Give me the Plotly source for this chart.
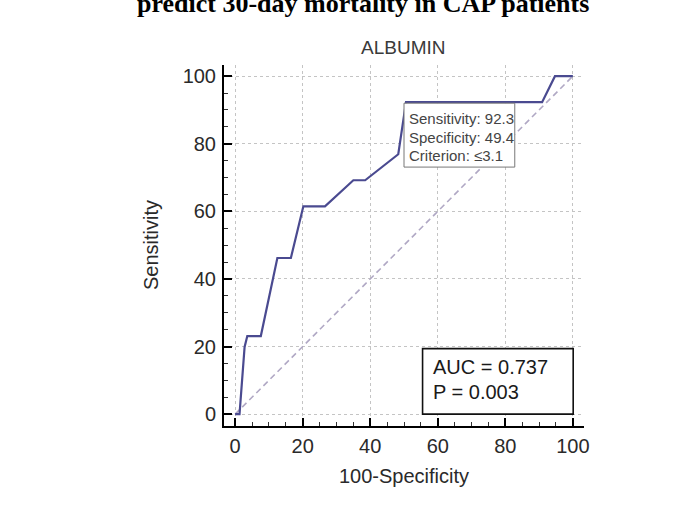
import plotly.graph_objects as go

# ROC curve points (100-Specificity, Sensitivity)
fpr = [0, 1.3, 2.8, 3.6, 7.6, 12.5, 16.5, 20.2, 26.6, 35.0, 38.5, 48.3, 50.6, 90.9, 94.7, 100]
tpr = [0, 0, 19.9, 23.1, 23.1, 46.2, 46.2, 61.5, 61.5, 69.2, 69.2, 76.9, 92.3, 92.3, 100, 100]
diag = [0, 100]
tick_vals = [0, 20, 40, 60, 80, 100]
tick_text = ["0", "20", "40", "60", "80", "100"]

sens_txt = "Sensitivity: 92.3"
spec_txt = "Specificity: 49.4"
crit_txt = "Criterion: \u22643.1"
auc_txt = "AUC = 0.737"
p_txt = "P = 0.003"

FONT = "Liberation Sans, Arial, sans-serif"
W, H = 693, 507
ml, mr, mt, mb = 224, 109, 65, 81
xr = [-3.3, 103.3]
yr = [-3.5, 103.3]

fig = go.Figure()
fig.add_trace(go.Scatter(x=diag, y=diag, mode="lines",
                         line=dict(color="#b0a8c4", width=1.6, dash="6px,4px"),
                         hoverinfo="skip", showlegend=False))
fig.add_trace(go.Scatter(x=fpr, y=tpr, mode="lines",
                         line=dict(color="#4a4a90", width=2.2),
                         showlegend=False))

# criterion box
fig.add_shape(type="rect", x0=50.0, x1=82.8, y0=73.1, y1=92.0, xref="x", yref="y",
              line=dict(color="#777777", width=1), fillcolor="white", layer="above")
for txt, yy in [(sens_txt, 87.4), (spec_txt, 82.0), (crit_txt, 76.6)]:
    fig.add_annotation(x=51.0, y=yy, xref="x", yref="y", text=txt, showarrow=False,
                       xanchor="left", yanchor="middle",
                       font=dict(family=FONT, size=15, color="#444444"))

# AUC box
fig.add_shape(type="rect", x0=55.5, x1=100.1, y0=0, y1=19.4, xref="x", yref="y",
              line=dict(color="#111111", width=1.6), fillcolor="white", layer="above")
fig.add_annotation(x=58.0, y=14.0, xref="x", yref="y", text=auc_txt, showarrow=False,
                   xanchor="left", yanchor="middle", font=dict(family=FONT, size=20, color="#1a1a1a"))
fig.add_annotation(x=58.0, y=6.6, xref="x", yref="y", text=p_txt, showarrow=False,
                   xanchor="left", yanchor="middle", font=dict(family=FONT, size=20, color="#1a1a1a"))

pw = W - ml - mr
ph = H - mt - mb
def px_x(p):
    return (p - ml) / pw
def px_y(p):
    return (H - mb - p) / ph

# chart title
fig.add_annotation(x=px_x(403), y=px_y(47), xref="paper", yref="paper", text="ALBUMIN",
                   showarrow=False, xanchor="center", yanchor="middle",
                   font=dict(family=FONT, size=19, color="#3a3a3a"))
# cut-off caption at top
fig.add_annotation(x=px_x(363), y=px_y(3.5), xref="paper", yref="paper",
                   text="<b>predict 30-day mortality in CAP patients</b>",
                   showarrow=False, xanchor="center", yanchor="middle",
                   font=dict(family="Liberation Serif, Times New Roman, serif", size=26, color="black"))
# axis titles
fig.add_annotation(x=px_x(151), y=px_y(245), xref="paper", yref="paper", text="Sensitivity",
                   showarrow=False, textangle=-90, xanchor="center", yanchor="middle",
                   font=dict(family=FONT, size=20, color="#2a2a2a"))
fig.add_annotation(x=px_x(404), y=px_y(476), xref="paper", yref="paper", text="100-Specificity",
                   showarrow=False, xanchor="center", yanchor="middle",
                   font=dict(family=FONT, size=20, color="#2a2a2a"))

axis_common = dict(
    tickvals=tick_vals, ticktext=tick_text,
    showline=True, linecolor="black", linewidth=2,
    ticks="inside", ticklen=8, tickwidth=2, tickcolor="black",
    showgrid=True, gridcolor="#c4c4c4", gridwidth=1, griddash="dot",
    zeroline=False,
    tickfont=dict(family=FONT, size=20, color="#2a2a2a"),
    minor=dict(dtick=5, ticks="inside", ticklen=4, tickwidth=1, tickcolor="#333333", showgrid=False),
)
fig.update_xaxes(range=xr, ticklabelstandoff=1, **axis_common)
fig.update_yaxes(range=yr, ticklabelstandoff=2, **axis_common)

fig.update_layout(width=W, height=H, margin=dict(l=ml, r=mr, t=mt, b=mb),
                  paper_bgcolor="white", plot_bgcolor="white", showlegend=False)

fig.write_html("out.html")
